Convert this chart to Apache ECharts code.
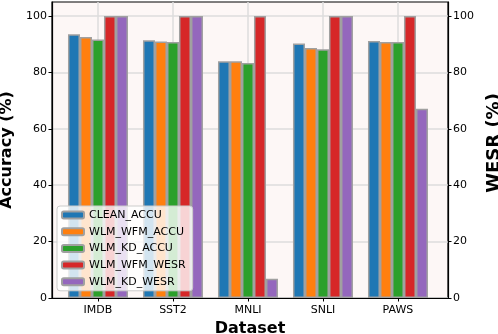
<!DOCTYPE html>
<html>
<head>
<meta charset="utf-8">
<script src="https://cdn.jsdelivr.net/npm/echarts@6/dist/echarts.min.js"></script>
<style>
    html, body { margin: 0; padding: 0; background: #fff; }
    #main { width: 498px; height: 334px; }
</style>
</head>
<body>
<div id="main"></div>
<script>
// 数据
var categories = ['IMDB', 'SST2', 'MNLI', 'SNLI', 'PAWS'];
var cleanAccu = [93.6, 91.4, 84.0, 90.3, 91.2];
var wfmAccu = [92.6, 91.0, 84.0, 88.7, 90.8];
var kdAccu = [91.7, 90.8, 83.4, 88.2, 90.8];
var wfmWesr = [100, 100, 100, 100, 100];
var kdWesr = [100, 100, 6.8, 100, 67.1];
var yTicks = [0, 20, 40, 60, 80, 100];
var xTicks = [0, 1, 2, 3, 4];

var font = 'DejaVu Sans';

function toPairs(arr) {
    return arr.map(function (v, i) { return [i, v]; });
}

function makeBar(name, color, values, yIndex) {
    return {
        name: name,
        type: 'bar',
        yAxisIndex: yIndex,
        barWidth: 12,
        barGap: '0%',
        itemStyle: { color: color, borderColor: '#a0a0a0', borderWidth: 1.5 },
        data: toPairs(values)
    };
}

function yAxis(name, pos, split, gap, nameStyle) {
    return {
        type: 'value',
        position: pos,
        min: 0,
        max: 105,
        name: name,
        nameLocation: 'middle',
        nameGap: gap,
        nameTextStyle: nameStyle,
        axisLine: { show: true, onZero: false, lineStyle: { color: '#000', width: 1.2 } },
        axisTick: { show: true, length: 3.5, customValues: yTicks, lineStyle: { color: '#000' } },
        axisLabel: { customValues: yTicks, fontFamily: font, fontSize: 11, color: '#000', margin: 5 },
        splitLine: { show: split, lineStyle: { color: '#dcdcdc', width: 1.5 } }
    };
}

var chart = echarts.init(document.getElementById('main'));

var option = {
    animation: false,
    grid: {
        left: 52, right: 50, top: 2, bottom: 36,
        outerBoundsMode: 'none',
        containLabel: false,
        show: true,
        backgroundColor: '#fdf7f6',
        borderColor: '#000',
        borderWidth: 1.2
    },
    legend: {
        orient: 'vertical',
        left: 57,
        top: 206,
        itemWidth: 22,
        itemHeight: 7,
        itemGap: 4.7,
        padding: [3, 7, 3, 4],
        backgroundColor: 'rgba(255,255,255,0.8)',
        borderColor: '#ccc',
        borderWidth: 1,
        borderRadius: 3,
        textStyle: { fontFamily: font, fontSize: 11, color: '#000', lineHeight: 12 },
        data: ['CLEAN_ACCU', 'WLM_WFM_ACCU', 'WLM_KD_ACCU', 'WLM_WFM_WESR', 'WLM_KD_WESR']
    },
    xAxis: {
        type: 'value',
        min: -0.613,
        max: 4.667,
        name: 'Dataset',
        nameLocation: 'middle',
        nameGap: 20,
        nameTextStyle: { fontFamily: font, fontSize: 16, fontWeight: 'bold', color: '#000' },
        axisLine: { show: true, onZero: false, lineStyle: { color: '#000', width: 1.2 } },
        axisTick: { show: true, length: 3.5, customValues: xTicks, lineStyle: { color: '#000' } },
        axisLabel: {
            customValues: xTicks,
            fontFamily: font, fontSize: 11, color: '#000', margin: 7,
            formatter: function (v) { return categories[Math.round(v)] || ''; }
        },
        splitLine: { show: true, lineStyle: { color: '#dcdcdc', width: 1.5 } }
    },
    yAxis: [
        yAxis('Accuracy (%)', 'left', true, 35,
            { fontFamily: font, fontSize: 16, fontWeight: 'bold', color: '#000' }),
        yAxis('WESR (%)', 'right', false, 33,
            { fontFamily: font, fontSize: 18, fontWeight: 'bold', color: '#000', padding: [0, 0, 0, 14] })
    ],
    series: [
        makeBar('CLEAN_ACCU', '#1f77b4', cleanAccu, 0),
        makeBar('WLM_WFM_ACCU', '#ff7f0e', wfmAccu, 0),
        makeBar('WLM_KD_ACCU', '#2ca02c', kdAccu, 0),
        makeBar('WLM_WFM_WESR', '#d62728', wfmWesr, 1),
        makeBar('WLM_KD_WESR', '#9467bd', kdWesr, 1)
    ]
};

chart.setOption(option);
</script>
</body>
</html>
